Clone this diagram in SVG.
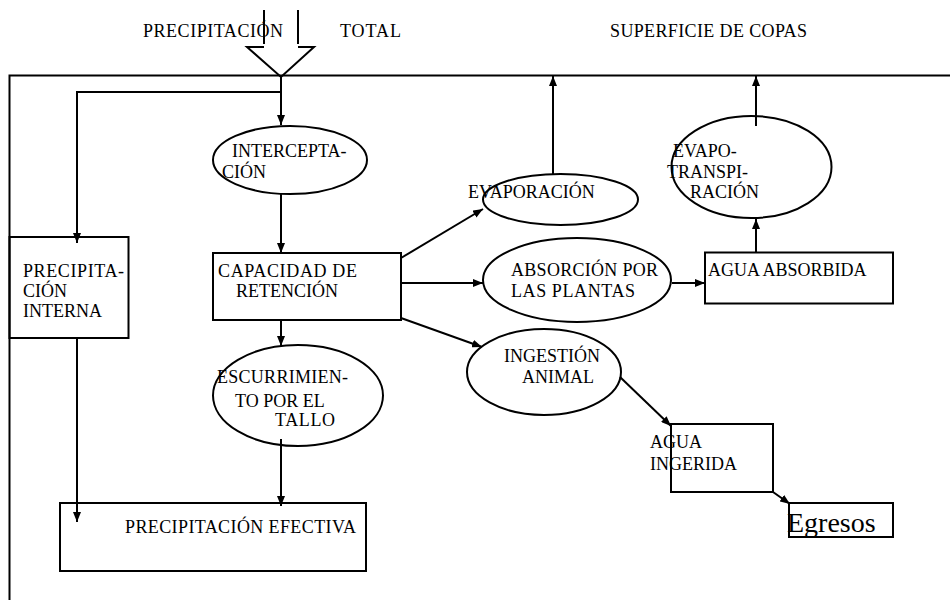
<svg xmlns="http://www.w3.org/2000/svg" width="950" height="600" viewBox="0 0 950 600">
<defs>
<marker id="ah" markerUnits="userSpaceOnUse" markerWidth="10" markerHeight="8" refX="10" refY="4" orient="auto">
<path d="M0,0 L10,4 L0,8 Z" fill="#000"/>
</marker>
<style>
.t{font-family:"Liberation Serif","Times New Roman",serif;font-size:18px;fill:#000}
.b{font-size:28px}
.s{fill:none;stroke:#000;stroke-width:2}
.c{fill:none;stroke:#000;stroke-width:2}
.a{fill:none;stroke:#000;stroke-width:2;marker-end:url(#ah)}
</style>
</defs>
<rect width="950" height="600" fill="#fff"/>
<g id="frame">
<path class="s" d="M950,75.5 H9.5 V600"/>
</g>
<g id="input-arrow">
<path class="s" d="M264,10 V44 M298,10 V44 M264,47 H247 L281,77 L314,47 H298"/>
</g>
<g id="labels">
<text class="t" x="143" y="37" textLength="140" lengthAdjust="spacing">PRECIPITACIÓN</text>
<text class="t" x="340" y="37" textLength="61" lengthAdjust="spacing">TOTAL</text>
<text class="t" x="610" y="37" textLength="197" lengthAdjust="spacing">SUPERFICIE  DE COPAS</text>
</g>
<g id="intercepcion">
<ellipse class="c" cx="290" cy="160" rx="77" ry="34"/>
<text class="t" x="232" y="157">INTERCEPTA-</text>
<text class="t" x="222" y="178">CIÓN</text>
</g>
<g id="precipitacion-interna">
<rect class="s" x="9.5" y="237" width="119" height="101"/>
<text class="t" x="23" y="277" textLength="101" lengthAdjust="spacing">PRECIPITA-</text>
<text class="t" x="23" y="297">CIÓN</text>
<text class="t" x="23" y="317">INTERNA</text>
</g>
<g id="capacidad">
<rect class="s" x="213" y="253" width="188" height="67"/>
<text class="t" x="218" y="277" textLength="139" lengthAdjust="spacing">CAPACIDAD  DE</text>
<text class="t" x="236" y="297">RETENCIÓN</text>
</g>
<g id="escurrimiento">
<ellipse class="c" cx="298" cy="395.5" rx="85" ry="50.5"/>
<text class="t" x="217" y="383" textLength="131" lengthAdjust="spacing">ESCURRIMIEN-</text>
<text class="t" x="235" y="407">TO POR EL</text>
<text class="t" x="275" y="426" textLength="60" lengthAdjust="spacing">TALLO</text>
</g>
<g id="precipitacion-efectiva">
<rect class="s" x="60" y="503" width="306" height="68"/>
<text class="t" x="125" y="533" textLength="231" lengthAdjust="spacing">PRECIPITACIÓN EFECTIVA</text>
</g>
<g id="evaporacion">
<ellipse class="c" cx="560.5" cy="199.5" rx="77.5" ry="25.5"/>
<text class="t" x="468" y="198">EVAPORACIÓN</text>
</g>
<g id="evapotranspiracion">
<ellipse class="c" cx="751.5" cy="167" rx="80" ry="51"/>
<text class="t" x="673" y="157">EVAPO-</text>
<text class="t" x="667" y="178">TRANSPI-</text>
<text class="t" x="690" y="198">RACIÓN</text>
</g>
<g id="absorcion">
<ellipse class="c" cx="577" cy="280" rx="94" ry="42"/>
<text class="t" x="511" y="276" textLength="147" lengthAdjust="spacing">ABSORCIÓN  POR</text>
<text class="t" x="511" y="297" textLength="124" lengthAdjust="spacing">LAS PLANTAS</text>
</g>
<g id="agua-absorbida">
<rect class="s" x="705" y="252.5" width="188" height="51"/>
<text class="t" x="708" y="276">AGUA  ABSORBIDA</text>
</g>
<g id="ingestion">
<ellipse class="c" cx="544" cy="372" rx="77" ry="43"/>
<text class="t" x="504" y="362">INGESTIÓN</text>
<text class="t" x="522" y="383">ANIMAL</text>
</g>
<g id="agua-ingerida">
<rect class="s" x="671" y="424" width="102" height="68"/>
<text class="t" x="650" y="448">AGUA</text>
<text class="t" x="650" y="470">INGERIDA</text>
</g>
<g id="egresos">
<rect class="s" x="789" y="503" width="104" height="34"/>
<text class="t b" x="787" y="532">Egresos</text>
</g>
<g id="connectors">
<path class="a" d="M281,77 V125"/>
<path class="a" d="M281,92 H77 V243"/>
<path class="a" d="M281,194 V253"/>
<path class="a" d="M281,320 V346"/>
<path class="a" d="M281,439 V506"/>
<path class="a" d="M77,338 V522"/>
<path class="a" d="M401,258 L483,209"/>
<path class="a" d="M401,283 H483"/>
<path class="a" d="M401,318 L482,347"/>
<path class="a" d="M553,174 V76"/>
<path class="a" d="M756,126 V76"/>
<path class="a" d="M756,253 V219"/>
<path class="a" d="M672,283 H705"/>
<path class="a" d="M620,377 L671,426"/>
<path class="a" d="M773,492 L790,504"/>
</g>
</svg>
